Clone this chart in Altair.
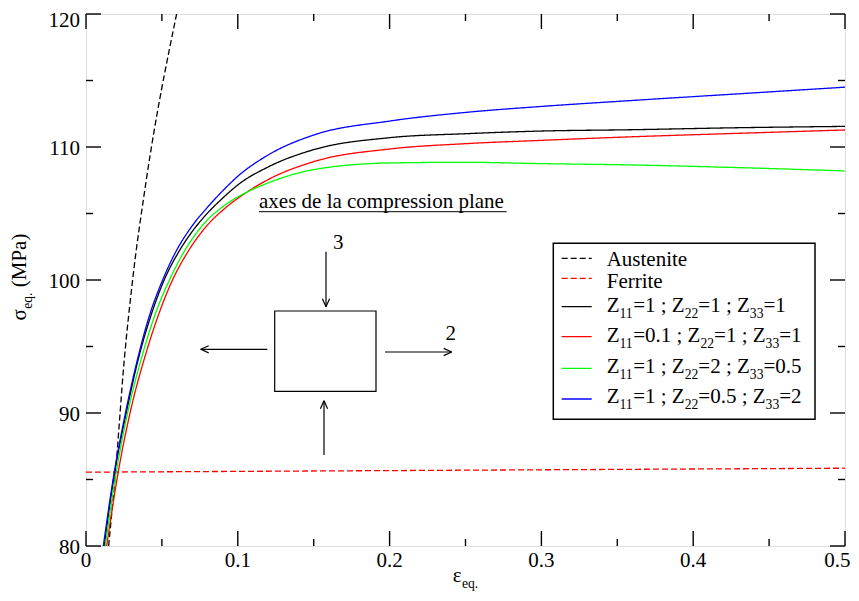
import re
import math
import altair as alt
import pandas as pd

# ---------------- data ----------------
aust_x = [0.0149, 0.0195, 0.0252, 0.0307, 0.0397, 0.0597]
aust_y = [80, 85.64, 93.98, 100, 107.5, 120]

ferr_x = [0.0, 0.25, 0.5]
ferr_y = [85.55, 85.7, 85.85]

black_x = [0.012, 0.019, 0.0265, 0.035, 0.043, 0.0515, 0.061, 0.07, 0.079, 0.09, 0.1, 0.12, 0.15,
           0.2, 0.25, 0.3, 0.36, 0.43, 0.5]
black_y = [80, 85.6, 90, 94.3, 97.4, 100, 102.1, 103.65, 104.9, 106.15, 107.15, 108.5, 109.8,
           110.7, 111.0, 111.2, 111.3, 111.45, 111.55]

red_x = [0.0136, 0.0213, 0.029, 0.039, 0.0475, 0.057, 0.067, 0.079, 0.0916, 0.1059, 0.12, 0.15,
         0.2, 0.25, 0.3, 0.36, 0.43, 0.5]
red_y = [80, 85.6, 90, 94.3, 97.3, 100, 102.1, 104.0, 105.4, 106.6, 107.55, 108.9,
         109.85, 110.25, 110.5, 110.77, 111.03, 111.28]

green_x = [0.0127, 0.02, 0.0274, 0.037, 0.0455, 0.055, 0.065, 0.079, 0.0894, 0.1059, 0.12, 0.15,
           0.2, 0.25, 0.3, 0.36, 0.43, 0.5]
green_y = [80, 85.6, 90, 94.3, 97.4, 100, 102.2, 104.4, 105.45, 106.6, 107.3, 108.3,
           108.8, 108.85, 108.75, 108.65, 108.45, 108.2]

blue_x = [0.0114, 0.0187, 0.026, 0.0345, 0.042, 0.0505, 0.06, 0.0695, 0.0795, 0.09, 0.1, 0.12,
          0.15, 0.2, 0.25, 0.3, 0.36, 0.43, 0.5]
blue_y = [80, 85.6, 90, 94.3, 97.4, 100, 102.3, 104.0, 105.4, 106.7, 107.8, 109.4,
          110.9, 111.95, 112.6, 113.05, 113.5, 114.0, 114.5]

series_names = ["Austenite", "Ferrite",
                "Z_{11}=1 ; Z_{22}=1 ; Z_{33}=1",
                "Z_{11}=0.1 ; Z_{22}=1 ; Z_{33}=1",
                "Z_{11}=1 ; Z_{22}=2 ; Z_{33}=0.5",
                "Z_{11}=1 ; Z_{22}=0.5 ; Z_{33}=2"]
series_colors = ["#000000", "#ff0000", "#000000", "#ff0000", "#00ff00", "#0000ff"]
series_dash = [[6, 3], [6, 3], [1, 0], [1, 0], [1, 0], [1, 0]]
series_data = [(aust_x, aust_y), (ferr_x, ferr_y), (black_x, black_y),
               (red_x, red_y), (green_x, green_y), (blue_x, blue_y)]

x_major = [0, 0.1, 0.2, 0.3, 0.4, 0.5]
x_labels = ["0", "0.1", "0.2", "0.3", "0.4", "0.5"]
x_minor = [0.05, 0.15, 0.25, 0.35, 0.45]
y_major = [80, 90, 100, 110, 120]
y_labels = ["80", "90", "100", "110", "120"]
y_minor = [85, 95, 105, 115]

annot_title = "axes de la compression plane"
x_title = "ε_{eq.}"
y_title = "σ_{eq.} (MPa)"

# ---------------- layout ----------------
W, H = 759, 532
FONT = "Liberation Serif"
FS = 21
LW = 1.3

xscale = alt.Scale(domain=[0, 0.5], nice=False, zero=False)
yscale = alt.Scale(domain=[80, 120], nice=False, zero=False)

dummy = alt.Data(values=[{"a": 1}])

layers = []

# main curves
rows = []
for i, (xs, ys) in enumerate(series_data):
    for j, (xv, yv) in enumerate(zip(xs, ys)):
        rows.append({"series": series_names[i], "x": xv, "y": yv, "o": j})
df = pd.DataFrame(rows)

base_line = alt.Chart(df).mark_line(strokeWidth=LW, interpolate="monotone", clip=True).encode(
    x=alt.X("x:Q", scale=xscale, axis=None),
    y=alt.Y("y:Q", scale=yscale, axis=None),
    color=alt.Color("series:N", scale=alt.Scale(domain=series_names, range=series_colors), legend=None),
    strokeDash=alt.StrokeDash("series:N", scale=alt.Scale(domain=series_names, range=series_dash), legend=None),
    detail="series:N",
    order="o:Q",
)
layers.append(base_line)

# inner ticks on all four sides
def xticks(vals, length):
    d = pd.DataFrame({"v": vals})
    b = alt.Chart(d).mark_rule(color="black", strokeWidth=1.4)
    enc = dict(x=alt.X("v:Q", scale=xscale, axis=None))
    return [b.encode(y=alt.value(H - length), y2=alt.value(H), **enc),
            b.encode(y=alt.value(0), y2=alt.value(length), **enc)]

def yticks(vals, length):
    d = pd.DataFrame({"v": vals})
    b = alt.Chart(d).mark_rule(color="black", strokeWidth=1.4)
    enc = dict(y=alt.Y("v:Q", scale=yscale, axis=None))
    return [b.encode(x=alt.value(0), x2=alt.value(length), **enc),
            b.encode(x=alt.value(W - length), x2=alt.value(W), **enc)]

layers += xticks(x_major, 15) + xticks(x_minor, 7) + yticks(y_major, 15) + yticks(y_minor, 7)

# tick labels through the scales
xl = pd.DataFrame({"v": x_major, "t": x_labels})
layers.append(alt.Chart(xl.iloc[:-1]).mark_text(
    font=FONT, fontSize=FS, align="center", baseline="alphabetic", color="black").encode(
    x=alt.X("v:Q", scale=xscale, axis=None), y=alt.value(H + 21), text="t:N"))
layers.append(alt.Chart(xl.iloc[-1:]).mark_text(
    font=FONT, fontSize=FS, align="right", baseline="alphabetic", color="black", dx=5.5).encode(
    x=alt.X("v:Q", scale=xscale, axis=None), y=alt.value(H + 21), text="t:N"))
yl = pd.DataFrame({"v": y_major, "t": y_labels})
layers.append(alt.Chart(yl.iloc[:-1]).mark_text(
    font=FONT, fontSize=FS, align="right", baseline="alphabetic", color="black", dy=8).encode(
    y=alt.Y("v:Q", scale=yscale, axis=None), x=alt.value(-6), text="t:N"))
layers.append(alt.Chart(yl.iloc[-1:]).mark_text(
    font=FONT, fontSize=FS, align="right", baseline="alphabetic", color="black", dy=13).encode(
    y=alt.Y("v:Q", scale=yscale, axis=None), x=alt.value(-6), text="t:N"))

# ---------------- text helpers ----------------
ADV = {'Z': 0.611, '=': 0.564, ';': 0.278, ' ': 0.25, '.': 0.25, 'σ': 0.55, 'ε': 0.44,
       'e': 0.444, 'q': 0.5, '(': 0.333, ')': 0.333, 'M': 0.889, 'P': 0.556, 'a': 0.444}
for dg in "0123456789":
    ADV[dg] = 0.5

def text_width(s, size):
    return sum(ADV.get(c, 0.5) for c in s) * size

SUB = 0.65
SUB_DY = 6

def parts_of(label):
    out = []
    for p in re.split(r'(_\{[^}]*\})', label):
        if not p:
            continue
        if p.startswith('_{'):
            out.append((p[2:-1], True))
        else:
            out.append((p, False))
    return out

def rich_text(label, x0, base, rotated=False, fs=FS):
    res = []
    cur = 0.0
    for t, sub in parts_of(label):
        size = fs * SUB if sub else fs
        dy = SUB_DY if sub else 0
        lead = len(t) - len(t.lstrip(' '))
        cur += text_width(' ' * lead, size)
        tt = t.lstrip(' ')
        if rotated:
            m = alt.Chart(dummy).mark_text(text=tt, font=FONT, fontSize=size, align="left",
                                           baseline="alphabetic", angle=270, color="black").encode(
                x=alt.value(x0 + dy), y=alt.value(base - cur))
        else:
            m = alt.Chart(dummy).mark_text(text=tt, font=FONT, fontSize=size, align="left",
                                           baseline="alphabetic", color="black").encode(
                x=alt.value(x0 + cur), y=alt.value(base + dy))
        res.append(m)
        cur += text_width(tt, size)
    return res

def total_width(label, fs=FS):
    return sum(text_width(t, fs * SUB if s else fs) for t, s in parts_of(label))

def seg(x1, y1, x2, y2, w=1.2):
    return alt.Chart(dummy).mark_rule(color="black", strokeWidth=w).encode(
        x=alt.value(x1), y=alt.value(y1), x2=alt.value(x2), y2=alt.value(y2))

def arrow(x1, y1, x2, y2):
    dx, dy = x2 - x1, y2 - y1
    L = math.hypot(dx, dy)
    ux, uy = dx / L, dy / L
    nx, ny = -uy, ux
    hl, hw = 8, 3.6
    bx, by = x2 - hl * ux, y2 - hl * uy
    return [seg(x1, y1, x2, y2),
            seg(x2, y2, bx + hw * nx, by + hw * ny),
            seg(x2, y2, bx - hw * nx, by - hw * ny)]

# ---------------- axis titles ----------------
xt_w = total_width(x_title)
layers += rich_text(x_title, W / 2 - xt_w / 2, 568)
yt_w = total_width(y_title)
layers += rich_text(y_title, -60.5, 263 + yt_w / 2, rotated=True)

# ---------------- inset diagram ----------------
layers += rich_text(annot_title, 173, 194.3)
layers.append(seg(173, 197.7, 420.7, 197.7, 1.0))
layers.append(alt.Chart(dummy).mark_rect(fill=None, stroke="black", strokeWidth=1.2).encode(
    x=alt.value(188.7), x2=alt.value(290), y=alt.value(297), y2=alt.value(377.3)))
layers += arrow(240, 237.7, 240, 292.7)
layers += arrow(238, 441, 238, 386.7)
layers += arrow(181.3, 335.3, 114.7, 335.3)
layers += arrow(299, 338, 365.7, 338)
layers.append(alt.Chart(dummy).mark_text(text="3", font=FONT, fontSize=FS, align="center",
                                         baseline="alphabetic", color="black").encode(
    x=alt.value(252.3), y=alt.value(235.3)))
layers.append(alt.Chart(dummy).mark_text(text="2", font=FONT, fontSize=FS, align="center",
                                         baseline="alphabetic", color="black").encode(
    x=alt.value(364.7), y=alt.value(326)))

# ---------------- legend ----------------
layers.append(alt.Chart(dummy).mark_rect(fill="white", stroke="black", strokeWidth=1.5).encode(
    x=alt.value(467.3), x2=alt.value(729), y=alt.value(229.3), y2=alt.value(405.3)))
sample_y = [244.3, 264.3, 292.7, 322.7, 354.3, 385]
text_base = [252, 274.3, 297.7, 327.7, 359.3, 389.3]
for i, name in enumerate(series_names):
    layers.append(alt.Chart(dummy).mark_rule(color=series_colors[i], strokeWidth=LW,
                                             strokeDash=series_dash[i]).encode(
        x=alt.value(475.7), x2=alt.value(505.7), y=alt.value(sample_y[i]), y2=alt.value(sample_y[i])))
    layers += rich_text(name, 520.7, text_base[i])

chart = alt.layer(*layers).properties(
    width=W, height=H,
    padding={"left": 78, "top": 6, "right": 6, "bottom": 47},
    autosize=alt.AutoSizeParams(type="none"),
).configure_view(stroke="black", strokeWidth=2).configure(background="white")

chart.save("out.html", embed_options={"renderer": "svg", "actions": False})
